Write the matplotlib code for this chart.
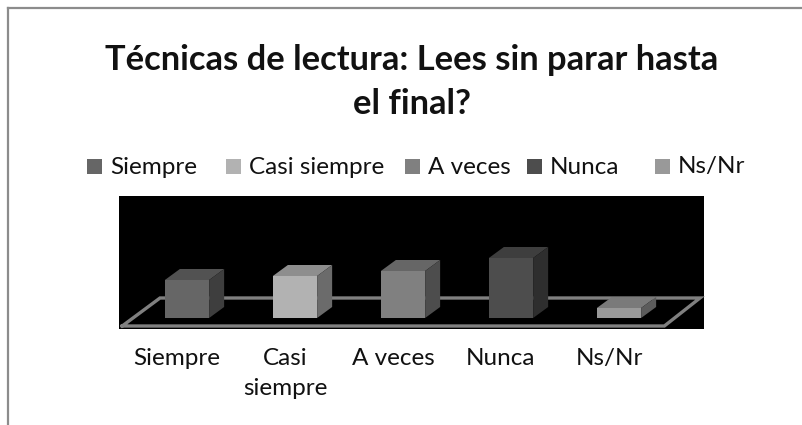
import matplotlib
matplotlib.use('Agg')
import matplotlib.pyplot as plt
from matplotlib.patches import Polygon, Rectangle
from matplotlib.lines import Line2D

categories = ['Siempre', 'Casi siempre', 'A veces', 'Nunca', 'Ns/Nr']
tick_labels = ['Siempre', 'Casi\nsiempre', 'A veces', 'Nunca', 'Ns/Nr']
values = [38, 42, 47, 60, 10]

front_colors = ['#666666', '#b2b2b2', '#808080', '#4d4d4d', '#999999']
top_colors = ['#525252', '#8e8e8e', '#666666', '#3e3e3e', '#7a7a7a']
side_colors = ['#3e3e3e', '#6b6b6b', '#4d4d4d', '#2e2e2e', '#5c5c5c']
legend_x = [87, 226, 405, 527, 655]

W, H = 802, 425
plt.rcParams['font.family'] = ['Lato', 'DejaVu Sans']

fig = plt.figure(figsize=(W / 100, H / 100), dpi=100)
ax = fig.add_axes([119 / W, 1 - 329 / H, 585 / W, 133 / H])
ax.set_facecolor('black')
ax.set_xlim((119 - 187) / 108, (704 - 187) / 108)
ax.set_ylim(-11, 122)
for s in ax.spines.values():
    s.set_visible(False)
ax.set_yticks([])
ax.set_xticks([i - 10 / 108 for i in range(len(tick_labels))])
ax.set_xticklabels(tick_labels, fontsize=17.5, color='#111111', linespacing=1.5, va='top')
ax.tick_params(axis='x', length=0, pad=14)

# floor of the 3d box
ax.plot([-0.6, -0.25, 4.75, 4.42, -0.6], [-8, 20, 20, -8, -8],
        color='#808080', lw=2.4, zorder=1, solid_joinstyle='miter', clip_on=False)

bw = 0.41
dx = 15 / 108
dy = 11
for i, v in enumerate(values):
    l, r = i - bw / 2, i + bw / 2
    ax.bar(i, v, width=bw, color=front_colors[i], zorder=3)
    ax.add_patch(Polygon([(l, v), (r, v), (r + dx, v + dy), (l + dx, v + dy)],
                         color=top_colors[i], lw=0, zorder=3))
    ax.add_patch(Polygon([(r, 0), (r + dx, dy), (r + dx, v + dy), (r, v)],
                         color=side_colors[i], lw=0, zorder=3))

fig.text(412 / W, 1 - 82 / H, 'Técnicas de lectura: Lees sin parar hasta\nel final?',
         ha='center', va='center', fontsize=24.8, fontweight='bold', color='#111111',
         linespacing=1.45)

for name, x, c in zip(categories, legend_x, front_colors):
    fig.add_artist(Rectangle((x / W, 1 - 174 / H), 15 / W, 15 / H, transform=fig.transFigure,
                             color=c, lw=0))
    fig.text((x + 23) / W, 1 - 167 / H, name, ha='left', va='center', fontsize=17.5,
             color='#111111')

# chart border
border = '#8c8c8c'
fig.add_artist(Line2D([8 / W, 8 / W], [0, 1 - 8 / H], color=border, lw=1.6))
fig.add_artist(Line2D([8 / W, 1], [1 - 8 / H, 1 - 8 / H], color=border, lw=1.6))

fig.savefig('out.png', dpi=100)
